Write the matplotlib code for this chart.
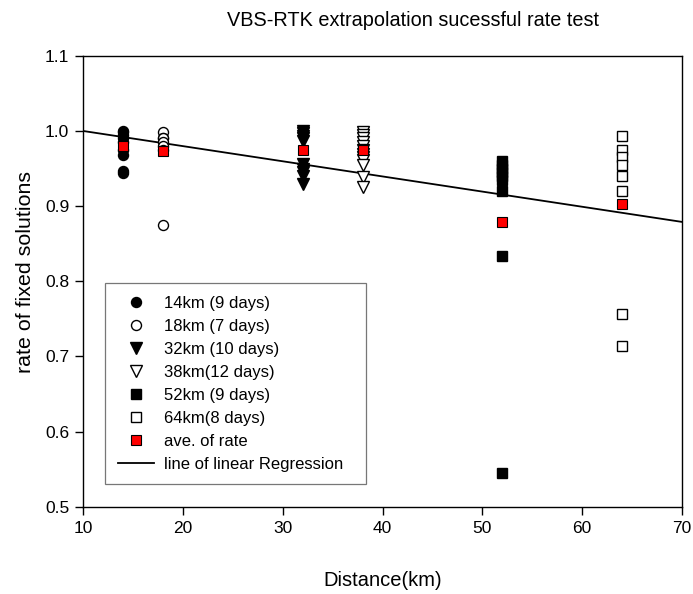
import numpy as np
from matplotlib import pyplot as plt

plt.rcParams['font.family'] = ['Liberation Sans', 'DejaVu Sans']

# rate of fixed solutions per day
d14 = [1.0, 0.998, 0.995, 0.99, 0.985, 0.975, 0.968, 0.947, 0.944]
d18 = [0.998, 0.99, 0.99, 0.985, 0.98, 0.975, 0.875]
d32 = [1.0, 0.997, 0.993, 0.99, 0.987, 0.956, 0.95, 0.945, 0.94, 0.93]
d38 = [0.998, 0.994, 0.99, 0.985, 0.98, 0.975, 0.97, 0.965, 0.961, 0.955, 0.939, 0.925]
d52 = [0.96, 0.955, 0.95, 0.945, 0.94, 0.935, 0.92, 0.833, 0.545]
d64 = [0.993, 0.975, 0.965, 0.955, 0.94, 0.92, 0.756, 0.714]

dist = [14, 18, 32, 38, 52, 64]
ave = [0.98, 0.973, 0.975, 0.975, 0.879, 0.903]

reg_x = [10, 70]
reg_y = [1.0, 0.879]

labels = ['14km (9 days)', '18km (7 days)', '32km (10 days)', '38km(12 days)',
          '52km (9 days)', '64km(8 days)', 'ave. of rate', 'line of linear Regression']

fig = plt.figure(figsize=(6.93, 5.94), dpi=100)
ax = fig.add_axes([0.12, 0.147, 0.864, 0.759])

ax.plot(reg_x, reg_y, color='black', linewidth=1.3, zorder=2)

ax.plot([14] * len(d14), d14, 'o', color='black', markersize=7.2, linestyle='none', zorder=3)
ax.plot([18] * len(d18), d18, 'o', mfc='white', mec='black', mew=1.0, markersize=7.2, linestyle='none', zorder=3)
ax.plot([32] * len(d32), d32, 'v', color='black', markersize=8, linestyle='none', zorder=3)
ax.plot([38] * len(d38), d38, 'v', mfc='white', mec='black', mew=1.0, markersize=8, linestyle='none', zorder=3)
ax.plot([52] * len(d52), d52, 's', color='black', markersize=6.5, linestyle='none', zorder=3)
ax.plot([64] * len(d64), d64, 's', mfc='white', mec='black', mew=1.0, markersize=6.5, linestyle='none', zorder=3)
ax.plot(dist, ave, 's', mfc='red', mec='black', mew=0.8, markersize=6.5, linestyle='none', zorder=4)

handles = ax.get_lines()[1:] + ax.get_lines()[:1]

ax.set_xlim(10, 70)
ax.set_ylim(0.5, 1.1)
ax.set_xticks(np.arange(10, 71, 10))
ax.set_yticks(np.arange(0.5, 1.11, 0.1))
ax.set_yticklabels(['%.1f' % v for v in np.arange(0.5, 1.11, 0.1)])
ax.tick_params(direction='out', length=6, width=1, labelsize=12.5, pad=4)
for s in ax.spines.values():
    s.set_linewidth(1)

ax.set_xlabel('Distance(km)', fontsize=14.5)
ax.xaxis.set_label_coords(0.5, -0.143)
ax.set_ylabel('rate of fixed solutions', fontsize=15.4)
ax.yaxis.set_label_coords(-0.08, 0.521)
fig.text(0.596, 0.966, 'VBS-RTK extrapolation sucessful rate test', fontsize=14.3,
         ha='center', va='center')

leg = ax.legend(handles, labels, loc='upper left', bbox_to_anchor=(0.0367, 0.057, 0.435, 0.439),
                mode='expand', fontsize=12, frameon=True, fancybox=False, borderaxespad=0,
                borderpad=0.75, labelspacing=0.48, handlelength=2.2, handletextpad=0.6)
leg.get_frame().set_edgecolor('#555555')
leg.get_frame().set_linewidth(0.9)

fig.savefig('out.png', dpi=100)
